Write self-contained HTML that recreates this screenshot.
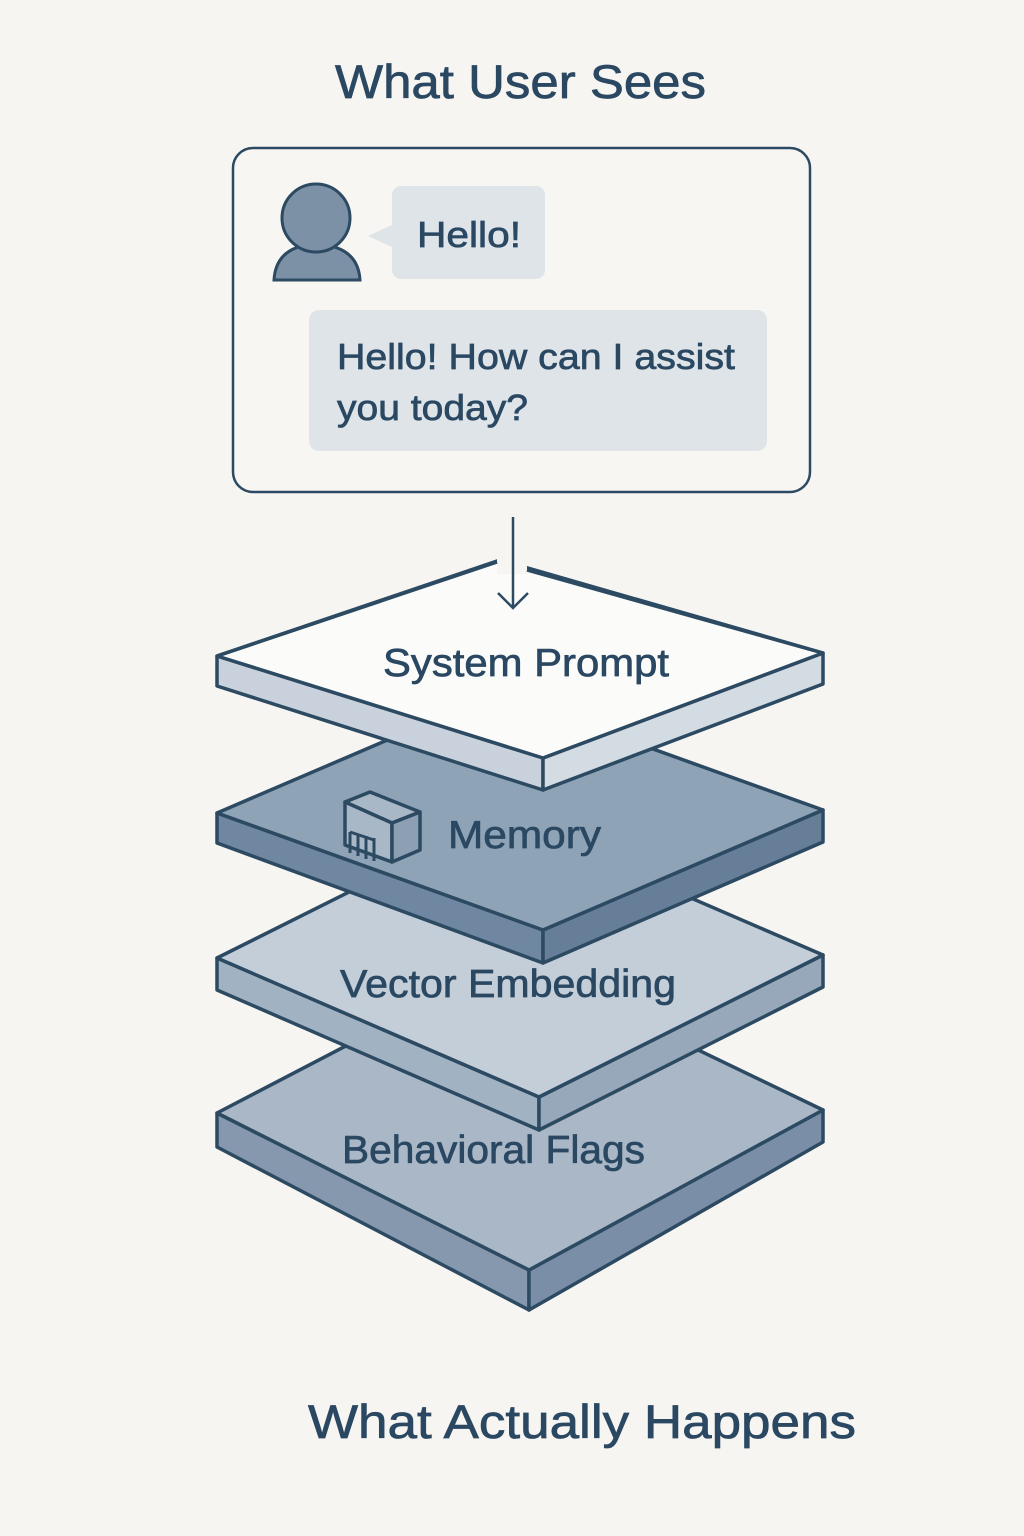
<!DOCTYPE html>
<html><head><meta charset="utf-8"><style>
html,body{margin:0;padding:0;background:#f7f5f2;}
svg{display:block}
text{font-family:"Liberation Sans",sans-serif;fill:#2b4862;stroke:#2b4862;stroke-width:0.7}
</style></head><body>
<svg width="1024" height="1536" viewBox="0 0 1024 1536" xmlns="http://www.w3.org/2000/svg">
<rect width="1024" height="1536" fill="#f7f5f2"/>
<text x="335" y="98" font-size="47" textLength="371" lengthAdjust="spacingAndGlyphs">What User Sees</text>
<rect x="233" y="148" width="577" height="344" rx="20" fill="#f7f6f3" stroke="#2d4a63" stroke-width="2.5"/>
<!-- avatar -->
<path d="M274 280 Q276 246 316 244 Q358 246 360 280 Z" fill="#7c91a6" stroke="#2d4a63" stroke-width="3"/>
<circle cx="316" cy="218" r="34" fill="#7c91a6" stroke="#2d4a63" stroke-width="3"/>
<rect x="392" y="186" width="153" height="93" rx="9" fill="#dfe4e9"/>
<path d="M394 224 L368 236 L394 248 Z" fill="#dfe4e9"/>
<text x="417" y="247" font-size="36" textLength="104" lengthAdjust="spacingAndGlyphs">Hello!</text>
<rect x="309" y="310" width="458" height="141" rx="10" fill="#dfe4e9"/>
<text x="337" y="369" font-size="36" textLength="398" lengthAdjust="spacingAndGlyphs">Hello! How can I assist</text>
<text x="337" y="420" font-size="36" textLength="191" lengthAdjust="spacingAndGlyphs">you today?</text>
<!-- Behavioral Flags -->
<g stroke="#2d4a63" stroke-width="3.5" stroke-linejoin="round">
<polygon points="217,1113 529,1270 529,1310 217,1147" fill="#8598ae"/>
<polygon points="529,1270 823,1110 823,1142 529,1310" fill="#7a8fa7"/>
<polygon points="217,1113 511,960 823,1110 529,1270" fill="#a9b7c6"/>
</g>
<!-- Vector Embedding -->
<g stroke="#2d4a63" stroke-width="3.5" stroke-linejoin="round">
<polygon points="217,958 539,1097 539,1130 217,990" fill="#a1b2c3"/>
<polygon points="539,1097 823,955 823,987 539,1130" fill="#96a8ba"/>
<polygon points="217,958 501,816 823,955 539,1097" fill="#c4ced8"/>
</g>
<text x="340" y="997" font-size="39" textLength="336" lengthAdjust="spacingAndGlyphs">Vector Embedding</text>
<!-- Memory -->
<g stroke="#2d4a63" stroke-width="3.5" stroke-linejoin="round">
<polygon points="217,813 543,930 543,963 217,843" fill="#6f87a0"/>
<polygon points="543,930 823,810 823,842 543,963" fill="#667e98"/>
<polygon points="217,813 497,693 823,810 543,930" fill="#8fa3b6"/>
</g>
<text x="448" y="848" font-size="39" textLength="153" lengthAdjust="spacingAndGlyphs">Memory</text>
<g stroke="#2d4a63" stroke-width="3.5" stroke-linejoin="round" fill="#a9b8c6">
<polygon points="345,802 370,792 420,812 392,823"/>
<polygon points="345,802 392,823 392,862 345,845"/>
<polygon points="392,823 420,812 420,850 392,862" fill="#8da0b3"/>
<path d="M350 853 V832 M358 856 V834 M366 859 V836 M374 861 V838 M350 832 L374 840" fill="none" stroke-width="3"/>
</g>
<text x="342" y="1163" font-size="39" textLength="303" lengthAdjust="spacingAndGlyphs">Behavioral Flags</text>
<!-- System Prompt -->
<g stroke="#2d4a63" stroke-width="3.5" stroke-linejoin="round">
<polygon points="217,656 543,758 543,790 217,686" fill="#c9d2dc"/>
<polygon points="543,758 823,653 823,684 543,790" fill="#d3dbe3"/>
<polygon points="217,656 500,560 823,653 543,758" fill="#fbfbfa"/>
</g>
<rect x="497" y="552" width="30" height="22" fill="#f7f5f2"/>
<line x1="217" y1="656" x2="497" y2="562" stroke="#2d4a63" stroke-width="3.5"/>
<line x1="527" y1="570" x2="823" y2="653" stroke="#2d4a63" stroke-width="3.5"/>
<text x="383" y="676" font-size="39" textLength="286" lengthAdjust="spacingAndGlyphs">System Prompt</text>
<!-- arrow -->
<g stroke="#2d4a63" stroke-width="2.5" fill="none">
<line x1="513" y1="517" x2="513" y2="607"/>
<polyline points="498,593 513,608 528,593"/>
</g>
<text x="308" y="1438" font-size="47" textLength="548" lengthAdjust="spacingAndGlyphs">What Actually Happens</text>
</svg>
</body></html>
